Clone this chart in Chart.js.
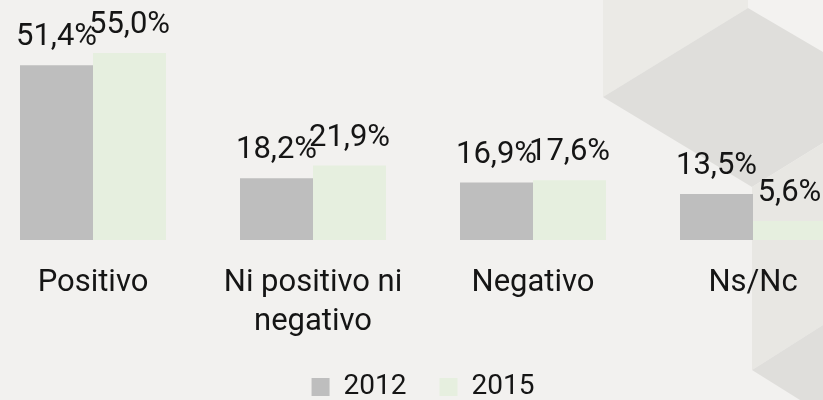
<!DOCTYPE html>
<html>
<head>
<meta charset="utf-8">
<script src="https://cdn.jsdelivr.net/npm/chart.js@4.4.1/dist/chart.umd.min.js"></script>
<style>
  html, body { margin:0; padding:0; width:823px; height:400px; overflow:hidden; background:#f2f1ef; }
  #bg { position:absolute; left:0; top:0; }
  #wrap { position:absolute; left:-17px; top:0; width:880px; height:411px; }
</style>
</head>
<body>
<svg id="bg" width="823" height="400">
  <polygon points="603,0 748,0 748,8 603,97" fill="#ebeae6"/>
  <polygon points="748,0 823,0 823,52 748,8" fill="#f3f2f0"/>
  <polygon points="603,97 748,8 823,52 823,143 752,187" fill="#dfdedb"/>
  <polygon points="752,187 823,143 823,325 752,370" fill="#e8e7e3"/>
  <polygon points="752,370 823,325 823,400 800,400" fill="#dfdedb"/>
</svg>
<div id="wrap"><canvas id="c" width="880" height="411"></canvas></div>
<script>
const categories = ["Positivo", ["Ni positivo ni", "negativo"], "Negativo", "Ns/Nc"];
const seriesNames = ["2012", "2015"];
const values2012 = [51.4, 18.2, 16.9, 13.5];
const values2015 = [55.0, 21.9, 17.6, 5.6];
const seriesColors = ["#bebebe", "#e6efdf"];

const FONT = "Roboto, 'Liberation Sans', sans-serif";

const valueLabels = {
  id: 'valueLabels',
  afterDatasetsDraw(chart) {
    const ctx = chart.ctx;
    ctx.save();
    ctx.font = "31px " + FONT;
    ctx.fillStyle = "#151515";
    ctx.textAlign = "center";
    ctx.textBaseline = "alphabetic";
    chart.data.datasets.forEach((ds, di) => {
      const meta = chart.getDatasetMeta(di);
      meta.data.forEach((el, i) => {
        const txt = ds.data[i].toFixed(1).replace('.', ',') + '%';
        ctx.fillText(txt, el.x, el.y - 20);
      });
    });
    ctx.restore();
  }
};

new Chart(document.getElementById('c'), {
  type: 'bar',
  data: {
    labels: categories,
    datasets: [
      { label: seriesNames[0], data: values2012, backgroundColor: seriesColors[0] },
      { label: seriesNames[1], data: values2015, backgroundColor: seriesColors[1] }
    ]
  },
  options: {
    responsive: false,
    animation: false,
    devicePixelRatio: 1,
    layout: { padding: { top: 0, left: 0, right: 0, bottom: 0 } },
    datasets: { bar: { categoryPercentage: 0.6636, barPercentage: 1.0 } },
    scales: {
      x: {
        grid: { display: false, drawTicks: false },
        border: { display: false },
        ticks: {
          color: "#151515",
          font: { family: FONT, size: 31, lineHeight: 1.25 },
          padding: 24,
          maxRotation: 0,
          autoSkip: false
        },
        afterFit(scale) { scale.height = 100; }
      },
      y: {
        display: false,
        min: 0,
        max: 70.6
      }
    },
    plugins: {
      legend: {
        position: 'bottom',
        labels: {
          color: "#151515",
          font: { family: FONT, size: 28, lineHeight: 1 },
          boxWidth: 18,
          boxHeight: 18,
          padding: 33
        }
      },
      tooltip: { enabled: false }
    }
  },
  plugins: [valueLabels]
});
</script>
</body>
</html>
